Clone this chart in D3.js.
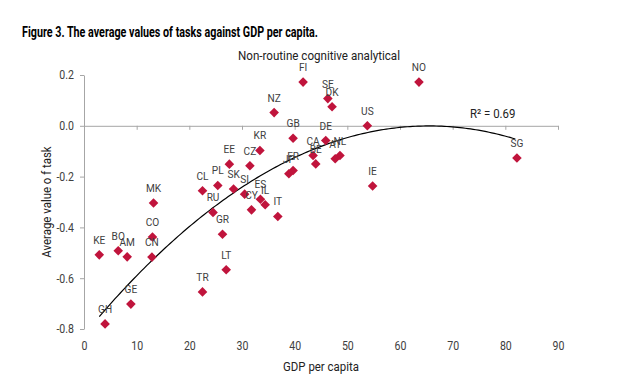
<!DOCTYPE html>
<html>
<head>
<meta charset="utf-8">
<script src="https://cdn.jsdelivr.net/npm/d3@7"></script>
<style>
  html, body { margin: 0; padding: 0; background: #fff; }
  svg { display: block; }
  text { font-family: "Roboto", "Liberation Sans", sans-serif; }
</style>
</head>
<body>
<svg id="chart" width="620" height="390"></svg>
<script>
// ---- data ----
const countries = ["FI","NO","SE","DK","US","DE","CA","BE","NL","AT","IE","SG",
  "NZ","GB","KR","EE","CZ","JP","FR","CL","PL","SK","SI","ES","IL","CY","IT","RU",
  "MK","CO","CN","KE","BO","AM","GH","GE","TR","LT","GR"];
const gdp = [41.6,63.6,46.3,47.1,53.8,45.9,43.5,44.0,48.6,47.7,54.8,82.2,
  36.1,39.7,33.4,27.6,31.5,38.9,39.7,22.5,25.4,28.4,30.5,33.5,34.4,31.8,36.8,24.5,
  13.2,13.0,12.9,2.9,6.5,8.2,4.0,8.9,22.5,27.0,26.3];
const taskValue = [0.172,0.172,0.107,0.075,0.000,-0.058,-0.117,-0.150,-0.117,-0.130,-0.237,-0.127,
  0.052,-0.049,-0.097,-0.151,-0.157,-0.189,-0.176,-0.256,-0.235,-0.249,-0.269,-0.289,-0.311,-0.331,-0.357,-0.341,
  -0.304,-0.438,-0.517,-0.508,-0.492,-0.516,-0.780,-0.702,-0.654,-0.567,-0.427];
const xTicks = [0,10,20,30,40,50,60,70,80,90];
const yTicks = [-0.8,-0.6,-0.4,-0.2,0.0,0.2];
// polynomial (order 2) trendline coefficients: c0 + c1*x + c2*x^2
const trendCoef = [-0.82215, 0.025088, -0.0001915];
const rSquaredLabel = "R² = 0.69";

const titleText = "Figure 3. The average values of tasks against GDP per capita.";
const subtitleText = "Non-routine cognitive analytical";
const xTitle = "GDP per capita";
const yTitle = "Average value o f task";

// ---- drawing ----
const svg = d3.select("#chart");
const axisColor = "#a6a6a6";
const textColor = "#404040";
const markColor = "#C0143C";
const narrow = 0.88;

const x = d3.scaleLinear().domain([0, 90]).range([84, 558]);
const y = d3.scaleLinear().domain([-0.8, 0.2]).range([329, 75]);

svg.append("rect").attr("width", 620).attr("height", 390).attr("fill", "#fff");

svg.append("text").attr("x", 22).attr("y", 37)
  .attr("font-size", 14.5).attr("font-weight", "bold").attr("fill", "#000")
  .attr("textLength", 296).attr("lengthAdjust", "spacingAndGlyphs")
  .text(titleText);

svg.append("text").attr("x", 238).attr("y", 60)
  .attr("font-size", 13).attr("fill", "#222")
  .attr("textLength", 162).attr("lengthAdjust", "spacingAndGlyphs")
  .text(subtitleText);

// y axis
const yAxis = svg.append("g").attr("transform", `translate(${x(0)},0)`)
  .call(d3.axisLeft(y).tickValues(yTicks).tickSize(4).tickSizeOuter(0).tickPadding(6)
    .tickFormat(d => d.toFixed(1)));
yAxis.selectAll("path, line").attr("stroke", axisColor);
yAxis.selectAll("text").attr("font-size", 12).attr("fill", textColor)
  .attr("transform", `scale(${narrow},1)`)
  .attr("x", -10 / narrow);

// x axis line at y=0 with ticks
const xAxis = svg.append("g").attr("transform", `translate(0,${y(0)})`)
  .call(d3.axisBottom(x).tickValues(xTicks).tickSize(4).tickSizeOuter(0).tickFormat(""));
xAxis.selectAll("path, line").attr("stroke", axisColor);

// x labels at bottom
const xLab = svg.append("g").attr("transform", `translate(0,341)`)
  .call(d3.axisBottom(x).tickValues(xTicks).tickSize(0).tickPadding(0));
xLab.select(".domain").remove();
xLab.selectAll("text").attr("font-size", 12).attr("fill", textColor)
  .attr("transform", `scale(${narrow},1)`);

// axis titles
svg.append("text").attr("transform", `translate(${x(45)},371) scale(${narrow},1)`)
  .attr("text-anchor", "middle")
  .attr("font-size", 13).attr("fill", "#222").text(xTitle);
svg.append("text").attr("transform", `translate(51,${y(-0.3)}) rotate(-90) scale(${narrow},1)`)
  .attr("text-anchor", "middle").attr("font-size", 13).attr("fill", "#222").text(yTitle);

// trendline
const xs = d3.range(d3.min(gdp), d3.max(gdp) + 0.001, 0.5);
const trend = xs.map(v => [v, trendCoef[0] + trendCoef[1] * v + trendCoef[2] * v * v]);
svg.append("path")
  .attr("d", d3.line().x(d => x(d[0])).y(d => y(d[1]))(trend))
  .attr("fill", "none").attr("stroke", "#000").attr("stroke-width", 1.2);

// points
const data = countries.map((c, i) => ({ c, gx: gdp[i], v: taskValue[i] }));
svg.append("g").selectAll("path").data(data).join("path")
  .attr("transform", d => `translate(${x(d.gx)},${y(d.v)})`)
  .attr("d", "M0,-4.8L4.8,0L0,4.8L-4.8,0Z")
  .attr("fill", markColor);

svg.append("g").selectAll("text").data(data).join("text")
  .attr("transform", d => `translate(${x(d.gx)},${y(d.v) - 11}) scale(${narrow},1)`)
  .attr("text-anchor", "middle").attr("font-size", 11.5).attr("fill", textColor)
  .text(d => d.c);

svg.append("text").attr("transform", `translate(470,118) scale(${narrow},1)`)
  .attr("font-size", 13).attr("fill", "#222").text(rSquaredLabel);
</script>
</body>
</html>
